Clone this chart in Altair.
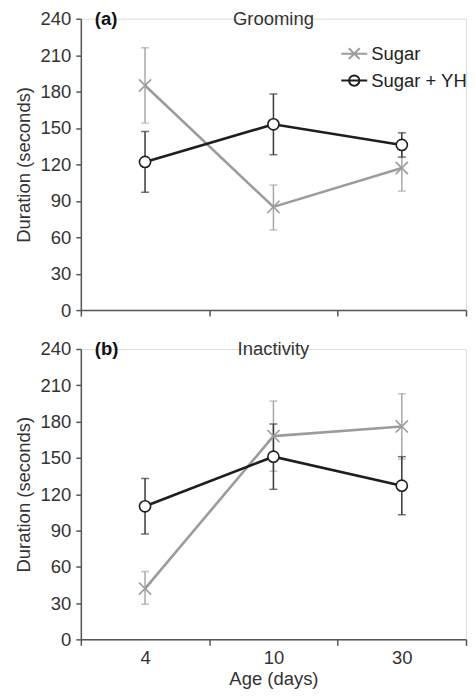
import altair as alt
import pandas as pd

ages = ["4", "10", "30"]
series = ["Sugar", "Sugar + YH"]

# Panel (a) Grooming
groom_sugar = [185, 85, 117]
groom_sugar_lo = [154, 66, 98]
groom_sugar_hi = [216, 103, 136]
groom_yh = [122, 153, 136]
groom_yh_lo = [97, 128, 126]
groom_yh_hi = [147, 178, 146]

# Panel (b) Inactivity
inact_sugar = [42, 168, 176]
inact_sugar_lo = [29, 139, 149]
inact_sugar_hi = [56, 197, 203]
inact_yh = [110, 151, 127]
inact_yh_lo = [87, 124, 103]
inact_yh_hi = [133, 178, 151]

y_ticks = [0, 30, 60, 90, 120, 150, 180, 210, 240]

FONT = "Liberation Sans"
FS = 18.5
GRAY = "#9c9c9c"
BLACK = "#1e1e1e"
GRAY_ERR = "#a8a8a8"
BLACK_ERR = "#3a3a3a"


def make_df(s_mean, s_lo, s_hi, y_mean, y_lo, y_hi):
    rows = []
    for i, a in enumerate(ages):
        rows.append(dict(age=a, idx=i, series=series[0], mean=s_mean[i], lo=s_lo[i], hi=s_hi[i]))
        rows.append(dict(age=a, idx=i, series=series[1], mean=y_mean[i], lo=y_lo[i], hi=y_hi[i]))
    return pd.DataFrame(rows)


X_PATH = "M-1,-1L1,1M-1,1L1,-1"
LEG_X = "M-1,0L1,0M-0.42,-0.42L0.42,0.42M-0.42,0.42L0.42,-0.42"
LEG_O = "M-1,0L1,0M-0.4,0A0.4,0.4,0,1,1,0.4,0A0.4,0.4,0,1,1,-0.4,0"


def panel(df, label, title, show_x_labels, show_legend, height):
    x_axis = alt.Axis(
        tickBand="extent",
        labels=show_x_labels,
        labelAngle=0,
        title="Age (days)" if show_x_labels else None,
        labelFont=FONT, labelFontSize=FS, labelColor="#333333", labelPadding=3,
        titleFont=FONT, titleFontSize=FS, titleFontWeight="normal", titleColor="#333333",
        titlePadding=3,
        domainColor="#555555", domainWidth=1.5, tickColor="#555555", tickWidth=1.5, tickSize=6,
        grid=False,
    )
    y_axis = alt.Axis(
        values=y_ticks, title="Duration (seconds)", labelOverlap=False,
        labelFont=FONT, labelFontSize=FS, labelColor="#333333", labelPadding=5,
        titleFont=FONT, titleFontSize=FS, titleFontWeight="normal", titleColor="#333333",
        titlePadding=7,
        domainColor="#555555", domainWidth=1.5, tickColor="#555555", tickWidth=1.5, tickSize=5,
        grid=False,
    )
    x_scale = alt.Scale(type="band", paddingInner=0, paddingOuter=0)
    x = alt.X("age:N", sort=ages, scale=x_scale, axis=x_axis)
    y_scale = alt.Scale(domain=[0, 240], nice=False)

    def Y(field):
        return alt.Y(field, type="quantitative", scale=y_scale, axis=y_axis)

    base = alt.Chart(df)
    layers = []
    for s, col, ecol in [(series[0], GRAY, GRAY_ERR), (series[1], BLACK, BLACK_ERR)]:
        sb = base.transform_filter(alt.datum.series == s)
        layers.append(sb.mark_rule(strokeWidth=1.5, color=ecol).encode(x=x, y=Y("lo"), y2="hi:Q"))
        layers.append(sb.mark_tick(orient="horizontal", size=8, thickness=1.5, color=ecol).encode(x=x, y=Y("lo")))
        layers.append(sb.mark_tick(orient="horizontal", size=8, thickness=1.5, color=ecol).encode(x=x, y=Y("hi")))
    for s, col in [(series[0], GRAY), (series[1], BLACK)]:
        sb = base.transform_filter(alt.datum.series == s)
        layers.append(sb.mark_line(strokeWidth=2.6, color=col).encode(
            x=x, y=Y("mean"), order=alt.Order("idx:Q")))
    layers.append(base.transform_filter(alt.datum.series == series[0]).mark_point(
        shape=X_PATH, size=150, filled=False, strokeWidth=1.6, color=GRAY, opacity=1
    ).encode(x=x, y=Y("mean")))
    layers.append(base.transform_filter(alt.datum.series == series[1]).mark_point(
        shape="circle", size=125, filled=True, fill="white", stroke=BLACK, strokeWidth=1.6, opacity=1
    ).encode(x=x, y=Y("mean")))

    tdf = pd.DataFrame([dict(age="10", t=title)])
    layers.append(alt.Chart(tdf).mark_text(font=FONT, fontSize=FS, color="#333333", baseline="middle").encode(
        x=alt.X("age:N", sort=ages, scale=x_scale, axis=x_axis),
        y=alt.value(0), text="t:N",
    ))
    ldf = pd.DataFrame([dict(t=label)])
    layers.append(alt.Chart(ldf).mark_text(font=FONT, fontSize=FS, fontWeight="bold", color="#111111",
                                           baseline="middle", align="left").encode(
        x=alt.value(14), y=alt.value(0), text="t:N",
    ))

    if show_legend:
        leg_kwargs = dict(
            title=None, orient="none", legendX=260, legendY=21,
            labelFont=FONT, labelFontSize=FS, labelColor="#222222", labelOffset=3,
            symbolSize=676, symbolStrokeWidth=2, symbolOpacity=1, rowPadding=3, padding=0,
            symbolFillColor="transparent",
        )
        layers.append(base.mark_point(size=0, filled=False, strokeWidth=0).encode(
            x=x, y=Y("mean"),
            color=alt.Color("series:N", scale=alt.Scale(domain=series, range=[GRAY, BLACK]),
                            legend=alt.Legend(**leg_kwargs)),
            shape=alt.Shape("series:N", scale=alt.Scale(domain=series, range=[LEG_X, LEG_O]),
                            legend=alt.Legend(**leg_kwargs)),
        ))
    return alt.layer(*layers).properties(width=386, height=height)


df_a = make_df(groom_sugar, groom_sugar_lo, groom_sugar_hi, groom_yh, groom_yh_lo, groom_yh_hi)
df_b = make_df(inact_sugar, inact_sugar_lo, inact_sugar_hi, inact_yh, inact_yh_lo, inact_yh_hi)

chart = alt.vconcat(
    panel(df_a, "(a)", "Grooming", False, True, 292),
    panel(df_b, "(b)", "Inactivity", True, False, 291),
    spacing=19,
).properties(
    padding={"left": 5, "top": 0, "right": 0, "bottom": 0}
).configure_view(stroke=None).configure(background="white")

chart.save("out.html", embed_options={"renderer": "svg", "actions": False})
